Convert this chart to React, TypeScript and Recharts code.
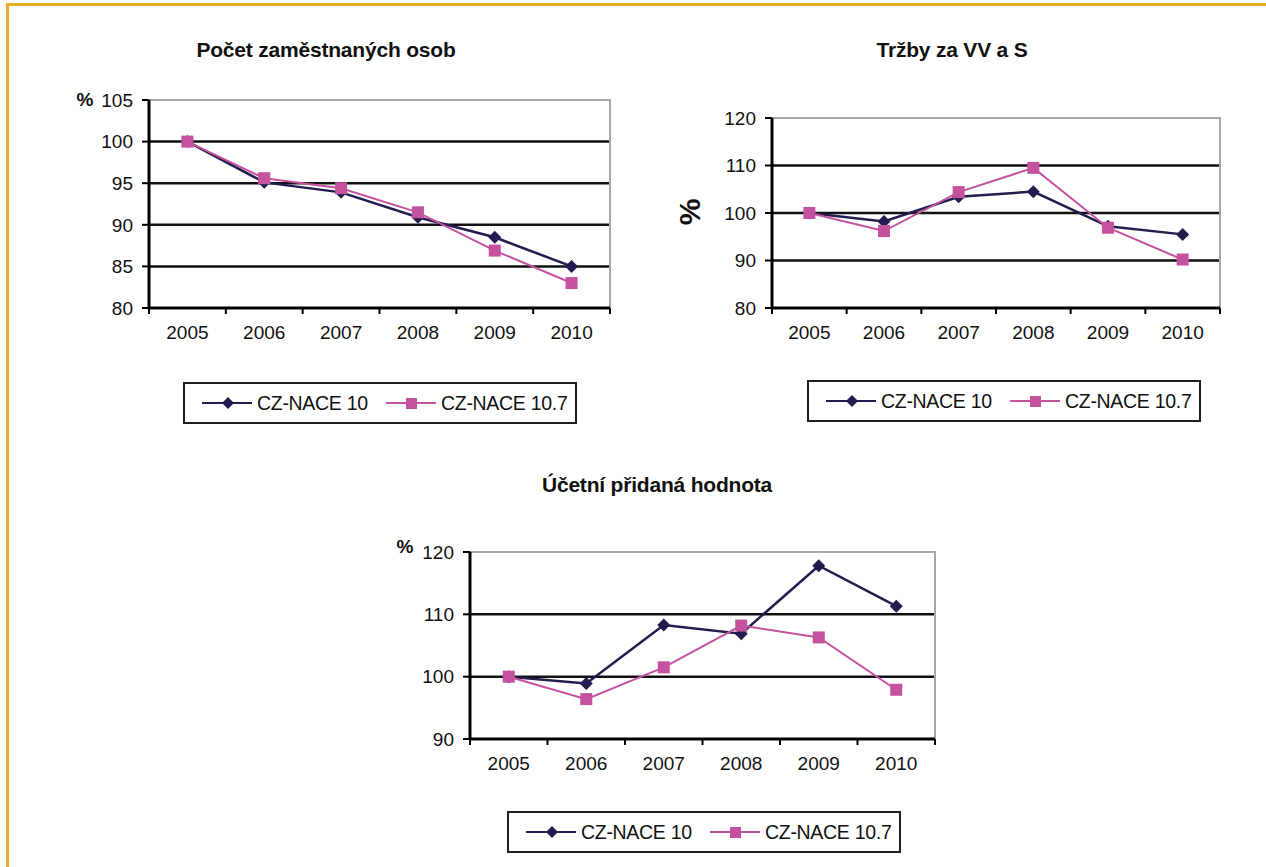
import { LineChart, Line, XAxis, YAxis, CartesianGrid, ReferenceArea } from 'recharts'

const years = ['2005', '2006', '2007', '2008', '2009', '2010']
const seriesNames = ['CZ-NACE 10', 'CZ-NACE 10.7']

const staffNace10 = [100, 95.1, 93.9, 90.9, 88.5, 85.0]
const staffNace107 = [100, 95.6, 94.4, 91.5, 86.9, 83.0]
const staffTicks = [80, 85, 90, 95, 100, 105]

const salesNace10 = [100, 98.2, 103.4, 104.5, 97.2, 95.5]
const salesNace107 = [100, 96.2, 104.4, 109.5, 96.9, 90.2]
const salesTicks = [80, 90, 100, 110, 120]

const valueNace10 = [100, 98.9, 108.3, 106.9, 117.8, 111.3]
const valueNace107 = [100, 96.4, 101.5, 108.2, 106.3, 97.9]
const valueTicks = [90, 100, 110, 120]

const PAGE_W = 1266
const PAGE_H = 867
const NAVY = '#231d4f'
const PINK = '#c4529e'
const FONT = '"Liberation Sans", Arial, sans-serif'
const Y_AXIS_W = 60
const X_AXIS_H = 30
const X_TICK_GAP = 18

const Diamond = (props: any) => {
  const { cx, cy, index } = props
  const r = 6.5
  return (
    <polygon
      key={`d-${index}`}
      points={`${cx},${cy - r} ${cx + r},${cy} ${cx},${cy + r} ${cx - r},${cy}`}
      fill={NAVY}
    />
  )
}

const Square = (props: any) => {
  const { cx, cy, index } = props
  const s = 12
  return <rect key={`s-${index}`} x={cx - s / 2} y={cy - s / 2} width={s} height={s} fill={PINK} />
}

// year label plus the short marks that sit on the band edges
const YearTick = (props: any) => {
  const { x, y, payload, index, visibleTicksCount } = props
  const half = payload?.offset ?? 0
  const axisY = y - X_TICK_GAP
  const last = index === visibleTicksCount - 1
  return (
    <g>
      <line x1={x - half} x2={x - half} y1={axisY} y2={axisY + 6} stroke="#000" strokeWidth={2} />
      {last && <line x1={x + half} x2={x + half} y1={axisY} y2={axisY + 6} stroke="#000" strokeWidth={2} />}
      <text x={x} y={y} dy="0.71em" textAnchor="middle" fill="#111" fontSize={19} fontFamily={FONT}>
        {payload.value}
      </text>
    </g>
  )
}

interface Plot { left: number; right: number; top: number; bottom: number }

interface PanelProps {
  plot: Plot
  ticks: number[]
  a: number[]
  b: number[]
}

const Panel = ({ plot, ticks, a, b }: PanelProps) => {
  const data = years.map((year, i) => ({ year, nace10: a[i], nace107: b[i] }))
  const domain: [number, number] = [ticks[0], ticks[ticks.length - 1]]
  return (
    <div style={{ position: 'absolute', left: 0, top: 0 }}>
      <LineChart
        width={PAGE_W}
        height={PAGE_H}
        data={data}
        margin={{
          top: plot.top,
          right: PAGE_W - plot.right,
          bottom: PAGE_H - plot.bottom - X_AXIS_H,
          left: plot.left - Y_AXIS_W,
        }}
      >
        <ReferenceArea
          xAxisId="cat"
          yAxisId="left"
          y1={domain[0]}
          y2={domain[1]}
          fill="none"
          fillOpacity={0}
          stroke="#a8a8a8"
          strokeWidth={2}
          ifOverflow="visible"
        />
        <CartesianGrid
          xAxisId="cat"
          yAxisId="left"
          vertical={false}
          horizontalValues={ticks.slice(1, -1)}
          stroke="#111"
          strokeWidth={2.5}
        />
        <XAxis
          xAxisId="cat"
          dataKey="year"
          scale="band"
          height={X_AXIS_H}
          axisLine={{ stroke: '#000', strokeWidth: 3 }}
          tickLine={false}
          tickSize={0}
          tickMargin={X_TICK_GAP}
          tick={YearTick}
        />
        <YAxis
          yAxisId="left"
          width={Y_AXIS_W}
          domain={domain}
          ticks={ticks}
          interval={0}
          tickSize={7}
          tickMargin={9}
          axisLine={{ stroke: '#000', strokeWidth: 3 }}
          tickLine={{ stroke: '#000', strokeWidth: 2 }}
          tick={{ fill: '#111', fontSize: 19, fontFamily: FONT }}
        />
        <Line
          xAxisId="cat"
          yAxisId="left"
          dataKey="nace10"
          name={seriesNames[0]}
          stroke={NAVY}
          strokeWidth={2.5}
          dot={Diamond}
          isAnimationActive={false}
        />
        <Line
          xAxisId="cat"
          yAxisId="left"
          dataKey="nace107"
          name={seriesNames[1]}
          stroke={PINK}
          strokeWidth={2}
          dot={Square}
          isAnimationActive={false}
        />
      </LineChart>
    </div>
  )
}

const LegendBox = ({ left, top }: { left: number; top: number }) => (
  <div
    style={{
      position: 'absolute',
      left,
      top,
      width: 390,
      height: 38,
      border: '2px solid #1e1e1e',
      display: 'flex',
      alignItems: 'center',
      fontFamily: FONT,
      fontSize: 19.5,
      color: '#111',
      letterSpacing: -0.3,
    }}
  >
    {seriesNames.map((name, i) => (
      <div key={name} style={{ display: 'flex', alignItems: 'center', marginLeft: i === 0 ? 17 : 0, width: i === 0 ? 184 : undefined }}>
        <svg width={50} height={16} style={{ marginRight: 5 }}>
          <line x1={0} y1={8} x2={50} y2={8} stroke={i === 0 ? NAVY : PINK} strokeWidth={2} />
          {i === 0 ? (
            <polygon points="26,2 32,8 26,14 20,8" fill={NAVY} />
          ) : (
            <rect x={20} y={3} width={11} height={11} fill={PINK} />
          )}
        </svg>
        <span>{name}</span>
      </div>
    ))}
  </div>
)

const Title = ({ text, cx, top }: { text: string; cx: number; top: number }) => (
  <div
    style={{
      position: 'absolute',
      left: cx,
      top,
      transform: 'translateX(-50%)',
      whiteSpace: 'nowrap',
      fontFamily: FONT,
      fontWeight: 'bold',
      fontSize: 21,
      lineHeight: '21px',
      letterSpacing: -0.2,
      color: '#111',
    }}
  >
    {text}
  </div>
)

const Pct = ({ cx, cy, size, rotate }: { cx: number; cy: number; size: number; rotate?: boolean }) => (
  <div
    style={{
      position: 'absolute',
      left: cx,
      top: cy,
      transform: `translate(-50%, -50%)${rotate ? ' rotate(-90deg)' : ''}`,
      fontFamily: FONT,
      fontWeight: 'bold',
      fontSize: size,
      lineHeight: `${size}px`,
      color: '#111',
    }}
  >
    %
  </div>
)

export default function App() {
  return (
    <div style={{ position: 'absolute', left: 0, top: 0, width: PAGE_W, height: PAGE_H, background: '#fff', overflow: 'hidden' }}>
      <div
        style={{
          position: 'absolute',
          left: 6,
          top: 3,
          right: 0,
          bottom: 0,
          borderTop: '3px solid #e8ae2a',
          borderLeft: '3px solid #e8ae2a',
        }}
      />
      <Panel plot={{ left: 149, right: 610, top: 100, bottom: 308 }} ticks={staffTicks} a={staffNace10} b={staffNace107} />
      <Panel plot={{ left: 772, right: 1220, top: 118, bottom: 308 }} ticks={salesTicks} a={salesNace10} b={salesNace107} />
      <Panel plot={{ left: 470, right: 935, top: 552, bottom: 739 }} ticks={valueTicks} a={valueNace10} b={valueNace107} />

      <Title text="Počet zaměstnaných osob" cx={326} top={39} />
      <Title text="Tržby za VV a S" cx={952} top={39} />
      <Title text="Účetní přidaná hodnota" cx={657} top={474} />

      <Pct cx={85} cy={99} size={19} />
      <Pct cx={690} cy={212} size={30} rotate />
      <Pct cx={405} cy={546} size={19} />

      <LegendBox left={183} top={382} />
      <LegendBox left={807} top={380} />
      <LegendBox left={507} top={811} />
    </div>
  )
}
